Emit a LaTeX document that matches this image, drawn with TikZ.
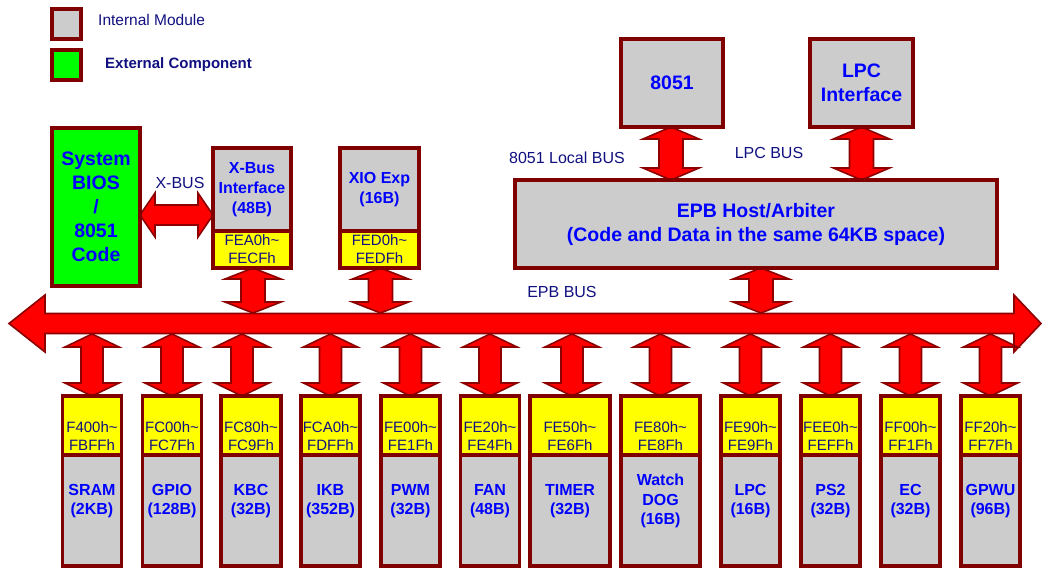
\documentclass[tikz,border=0pt]{standalone}
\usepackage{fontspec}
\setmainfont{Liberation Sans}
\usetikzlibrary{calc,backgrounds}

\definecolor{boxline}{RGB}{128,0,0}
\definecolor{arrline}{RGB}{140,0,0}
\definecolor{modgray}{RGB}{204,204,204}
\definecolor{addryellow}{RGB}{255,255,0}
\definecolor{extgreen}{RGB}{0,255,0}
\definecolor{nameblue}{RGB}{0,0,255}
\definecolor{navytext}{RGB}{16,16,128}

\tikzset{
  box/.style={draw=boxline, line width=3.6pt, inner sep=0pt, outer sep=0pt},
  graybox/.style={box, fill=modgray},
  yellowbox/.style={box, fill=addryellow},
  greenbox/.style={box, fill=extgreen},
  nametxt/.style={text=nameblue, font=\fontsize{16}{19.5}\selectfont\bfseries, align=center, inner sep=0pt},
  bigtxt/.style={text=nameblue, font=\fontsize{19.5}{23.5}\selectfont\bfseries, align=center},
  addrtxt/.style={text=navytext, font=\fontsize{15}{18}\selectfont, align=center, inner sep=0pt},
  bustxt/.style={text=navytext, font=\fontsize{16}{19}\selectfont, inner sep=0pt},
  busarrow/.style={fill=red, draw=arrline, line width=1.6pt, line join=miter},
}

% double-headed block arrow between two points
% #1,#2 tips; #3 half shaft; #4 half head; #5 head length at #1; #6 head length at #2
\newcommand\biarrow[6]{%
  \coordinate (ba1) at ($(#1)!#5!(#2)$);
  \coordinate (ba2) at ($(#2)!#6!(#1)$);
  \draw[busarrow] (#1) -- ($(ba1)!#4!90:(#2)$) -- ($(ba1)!#3!90:(#2)$)
    -- ($(ba2)!#3!-90:(#1)$) -- ($(ba2)!#4!-90:(#1)$) -- (#2)
    -- ($(ba2)!#4!90:(#1)$) -- ($(ba2)!#3!90:(#1)$)
    -- ($(ba1)!#3!-90:(#2)$) -- ($(ba1)!#4!-90:(#2)$) -- cycle;
}

% peripheral module on the EPB bus: address field over name field
% #1 name, #2 centre x, #3 width, #4 #5 address lines, #6 label
\newcommand\module[6]{%
  \node[yellowbox, minimum width=#3pt, minimum height=59pt, anchor=north] (#1A) at (#2,396) {};
  \node[graybox, minimum width=#3pt, minimum height=111pt, anchor=north] (#1) at (#1A.south) {};
  \node[addrtxt] (#1T) at ($(#1A.center)+(0,10.5)$) {#4\\#5};
  \node[nametxt] (#1N) at ($(#1.center)+(0,-9.5)$) {#6};
}

% arrow from the bus down to a module
\newcommand\modarrow[2][0]{%
  \coordinate (#2top) at ($(#2A.north)+(#1,0)$);
  \coordinate (#2bus) at (busBot -| #2top);
  \biarrow{#2bus}{#2top}{11pt}{27pt}{13pt}{13pt}
}

\begin{document}
\begin{tikzpicture}[x=1pt,y=-1pt]
\useasboundingbox (0,0) rectangle (1042,568);

% legend
\node[graybox, minimum width=29pt, minimum height=30pt, anchor=north west] (legint) at (52,9) {};
\node[greenbox, minimum width=29pt, minimum height=30pt, anchor=north west] (legext) at (52,50) {};
\node[anchor=west, inner sep=0pt, text=navytext, font=\fontsize{15.5}{18}\selectfont] (legintT) at (98,20) {Internal Module};
\node[anchor=west, inner sep=0pt, text=navytext, font=\fontsize{15}{18}\selectfont\bfseries] (legextT) at (105,65) {External Component};

% external code store and X-bus side
\node[greenbox, line width=4.2pt, minimum width=88pt, minimum height=158pt, anchor=north west, font=\fontsize{19.5}{24}\selectfont\bfseries, text=nameblue, align=center] (bios) at (52,128) {System\\BIOS\\/\\8051\\Code};

\node[graybox, minimum width=78pt, minimum height=83pt, anchor=north west, nametxt, font=\fontsize{16}{20}\selectfont\bfseries] (xbus) at (213,148) {X-Bus\\Interface\\(48B)};
\node[yellowbox, minimum width=78pt, minimum height=37pt, anchor=north, addrtxt] (xbusA) at (xbus.south) {FEA0h\textasciitilde\\FECFh};

\node[graybox, minimum width=79pt, minimum height=83pt, anchor=north west, nametxt, font=\fontsize{16}{20}\selectfont\bfseries] (xio) at (340,148) {XIO Exp\\(16B)};
\node[yellowbox, minimum width=79pt, minimum height=37pt, anchor=north, addrtxt] (xioA) at (xio.south) {FED0h\textasciitilde\\FEDFh};

% host side
\node[graybox, minimum width=102pt, minimum height=88pt, anchor=north west, bigtxt] (mcu) at (621,39) {8051};
\node[graybox, minimum width=103pt, minimum height=88pt, anchor=north west, bigtxt] (lpcif) at (810,39) {LPC\\Interface};
\node[graybox, minimum width=482pt, minimum height=88pt, anchor=north west, bigtxt, font=\fontsize{19.5}{24}\selectfont\bfseries] (epb) at (515,180) {EPB Host/Arbiter\\(Code and Data in the same 64KB space)};

% peripheral modules
\module{sram}{92}{59}{F400h\textasciitilde}{FBFFh}{SRAM\\(2KB)}
\module{gpio}{172}{59}{FC00h\textasciitilde}{FC7Fh}{GPIO\\(128B)}
\module{kbc}{251}{60}{FC80h\textasciitilde}{FC9Fh}{KBC\\(32B)}
\module{ikb}{330.5}{59}{FCA0h\textasciitilde}{FDFFh}{IKB\\(352B)}
\module{pwm}{410.5}{59}{FE00h\textasciitilde}{FE1Fh}{PWM\\(32B)}
\module{fan}{490}{59}{FE20h\textasciitilde}{FE4Fh}{FAN\\(48B)}
\module{timer}{570}{80}{FE50h\textasciitilde}{FE6Fh}{TIMER\\(32B)}
\module{wdog}{660.5}{79}{FE80h\textasciitilde}{FE8Fh}{Watch\\DOG\\(16B)}
\module{lpc}{750.5}{59}{FE90h\textasciitilde}{FE9Fh}{LPC\\(16B)}
\module{ps}{830.5}{59}{FEE0h\textasciitilde}{FEFFh}{PS2\\(32B)}
\module{ec}{910.5}{59}{FF00h\textasciitilde}{FF1Fh}{EC\\(32B)}
\module{gpwu}{990.5}{59}{FF20h\textasciitilde}{FF7Fh}{GPWU\\(96B)}

% bus labels
\node[bustxt] (lblxbus) at (180,183) {X-BUS};
\node[bustxt] (lbllocal) at (567,158) {8051 Local BUS};
\node[bustxt] (lbllpc) at (769,153) {LPC BUS};
\node[bustxt] (lblepb) at (562,292) {EPB BUS};

% bus and connectors, behind the boxes
\begin{scope}[on background layer]
  \coordinate (busL) at (9,323.5);
  \coordinate (busR) at (1041,323.5);
  \coordinate (busTop) at (0,313);
  \coordinate (busBot) at (0,334);
  \biarrow{busL}{busR}{10pt}{28.5pt}{36pt}{27pt}

  % X-BUS link
  \coordinate (xbY) at (0,215);
  \coordinate (xbL) at (bios.east |- xbY);
  \coordinate (xbR) at (xbus.west |- xbY);
  \biarrow{xbL}{xbR}{10pt}{22pt}{15pt}{15pt}

  % host links
  \coordinate (mcuDn) at ($(mcu.south)+(-1,0)$);
  \coordinate (mcuEpb) at (epb.north -| mcuDn);
  \biarrow{mcuDn}{mcuEpb}{12pt}{28pt}{12pt}{12pt}
  \coordinate (lpcDn) at (lpcif.south);
  \coordinate (lpcEpb) at (epb.north -| lpcDn);
  \biarrow{lpcDn}{lpcEpb}{12pt}{28pt}{12pt}{12pt}

  % links onto the EPB bus from above
  \coordinate (epbDn) at ($(epb.south)+(5,0)$);
  \coordinate (epbBus) at (busTop -| epbDn);
  \biarrow{epbDn}{epbBus}{12pt}{28pt}{11pt}{11pt}
  \coordinate (xbusDn) at ($(xbusA.south)+(1,0)$);
  \coordinate (xbusBus) at (busTop -| xbusDn);
  \biarrow{xbusDn}{xbusBus}{12pt}{28pt}{11pt}{11pt}
  \coordinate (xioDn) at ($(xioA.south)+(1,0)$);
  \coordinate (xioBus) at (busTop -| xioDn);
  \biarrow{xioDn}{xioBus}{12pt}{28pt}{11pt}{11pt}

  % links down to the peripheral modules
  \modarrow{sram}
  \modarrow{gpio}
  \modarrow[-9]{kbc}
  \modarrow{ikb}
  \modarrow{pwm}
  \modarrow{fan}
  \modarrow[2]{timer}
  \modarrow{wdog}
  \modarrow{lpc}
  \modarrow{ps}
  \modarrow{ec}
  \modarrow{gpwu}
\end{scope}
\end{tikzpicture}
\end{document}
